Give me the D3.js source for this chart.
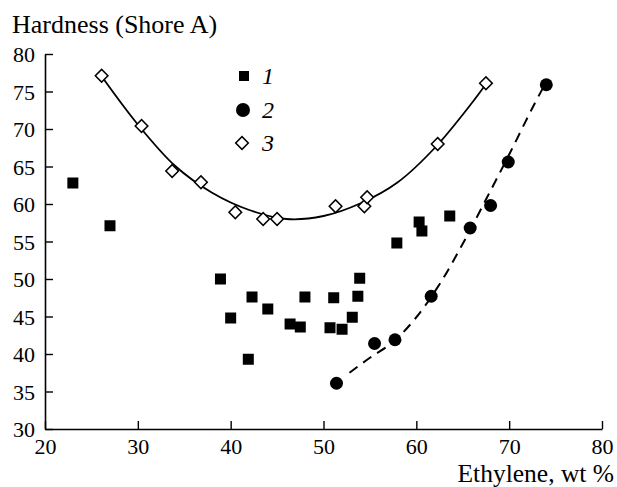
<!DOCTYPE html>
<html><head><meta charset="utf-8">
<script src="https://cdn.jsdelivr.net/npm/d3@7"></script>
<style>
body{margin:0;background:#fff;}
</style></head>
<body>
<svg id="c" width="617" height="487"></svg>
<script>
// Series 1 (filled squares)
const s1x = [23.0, 27.0, 38.9, 40.0, 41.9, 42.3, 44.0, 46.4, 47.5, 48.0, 50.7, 51.1, 52.0, 53.1, 53.7, 53.9, 57.9, 60.3, 60.6, 63.6];
const s1y = [62.8, 57.1, 50.0, 44.8, 39.3, 47.6, 46.0, 44.0, 43.6, 47.6, 43.5, 47.5, 43.3, 44.9, 47.7, 50.1, 54.8, 57.6, 56.4, 58.4];
// Series 2 (filled circles)
const s2x = [51.4, 55.5, 57.7, 61.6, 65.8, 68.0, 69.9, 74.0];
const s2y = [36.1, 41.4, 41.9, 47.7, 56.8, 59.8, 65.6, 75.9];
// Series 3 (open diamonds)
const s3x = [26.1, 30.4, 33.7, 36.8, 40.5, 43.5, 45.0, 51.3, 54.4, 54.7, 62.3, 67.5];
const s3y = [77.1, 70.4, 64.4, 62.9, 58.9, 58.0, 58.0, 59.7, 59.7, 60.9, 68.0, 76.1];
// Fitted curve for series 2 (dashed)
const c2x = [52.8, 55.0, 57.5, 60.0, 62.5, 65.0, 67.5, 70.0, 72.5, 74.0];
const c2y = [37.5, 39.5, 41.6, 44.9, 49.3, 54.7, 60.6, 66.6, 72.8, 76.3];
// Fitted curve for series 3 (solid)
const c3x = [26, 30, 34, 38, 42, 46, 50, 54, 58, 62, 66, 67.5];
const c3y = [77.2, 70.6, 65.1, 61.5, 59.2, 58.0, 58.4, 60.1, 62.9, 67.5, 73.5, 76.0];
// Ticks
const xTicks = [20, 30, 40, 50, 60, 70, 80];
const yTicks = [30, 35, 40, 45, 50, 55, 60, 65, 70, 75, 80];
const legendLabels = ["1", "2", "3"];
const yTitle = "Hardness (Shore A)";
const xTitle = "Ethylene, wt %";

const FONT = "'Liberation Serif'";
const svg = d3.select("#c");
const x = d3.scaleLinear().domain([20, 80]).range([45, 602]);
const y = d3.scaleLinear().domain([30, 80]).range([429, 54]);

// Axes
const xAxis = svg.append("g").attr("transform", "translate(0,429)")
  .call(d3.axisBottom(x).tickValues(xTicks).tickSizeInner(-8).tickSizeOuter(0).tickPadding(9));
const yAxis = svg.append("g").attr("transform", "translate(45,0)")
  .call(d3.axisLeft(y).tickValues(yTicks).tickSizeInner(-8).tickSizeOuter(0).tickPadding(10));
[xAxis, yAxis].forEach(a => {
  a.attr("font-family", null).attr("font-size", null);
  a.selectAll("path").attr("stroke", "#000").attr("stroke-width", 1.6);
  a.selectAll("line").attr("stroke", "#000").attr("stroke-width", 1.4);
  a.selectAll("text").style("font-size", "22px").style("font-family", FONT).attr("fill", "#000");
});
yAxis.selectAll("text").attr("dy", "0.36em");

svg.append("text").attr("x", 12).attr("y", 33).style("font-size", "26px").style("font-family", FONT).attr("fill", "#000").text(yTitle);
svg.append("text").attr("x", 614).attr("y", 482).attr("text-anchor", "end").style("font-size", "25.5px").style("font-family", FONT).attr("fill", "#000").text(xTitle);

const line = d3.line().x(d => x(d[0])).y(d => y(d[1])).curve(d3.curveCatmullRom.alpha(0.5));
svg.append("path").datum(d3.zip(c3x, c3y)).attr("d", line)
  .attr("fill", "none").attr("stroke", "#000").attr("stroke-width", 1.8);
svg.append("path").datum(d3.zip(c2x, c2y)).attr("d", line)
  .attr("fill", "none").attr("stroke", "#000").attr("stroke-width", 2).attr("stroke-dasharray", "10,7");

// Markers
const sq = 11;
svg.append("g").selectAll("rect").data(d3.zip(s1x, s1y)).join("rect")
  .attr("x", d => x(d[0]) - sq / 2).attr("y", d => y(d[1]) - sq / 2)
  .attr("width", sq).attr("height", sq).attr("fill", "#000");
svg.append("g").selectAll("circle").data(d3.zip(s2x, s2y)).join("circle")
  .attr("cx", d => x(d[0])).attr("cy", d => y(d[1])).attr("r", 6.5).attr("fill", "#000");
const dia = d3.symbol().type(d3.symbolSquare).size(80);
svg.append("g").selectAll("path").data(d3.zip(s3x, s3y)).join("path")
  .attr("d", dia)
  .attr("transform", d => `translate(${x(d[0])},${y(d[1])}) rotate(45)`)
  .attr("fill", "#fff").attr("stroke", "#000").attr("stroke-width", 1.5);

// Legend
const lg = svg.append("g");
const ly = [76, 110, 143];
lg.append("rect").attr("x", 244 - 5).attr("y", ly[0] - 5).attr("width", 10).attr("height", 10).attr("fill", "#000");
lg.append("circle").attr("cx", 243).attr("cy", ly[1]).attr("r", 7).attr("fill", "#000");
lg.append("path").attr("d", dia).attr("transform", `translate(242,${ly[2]}) rotate(45)`)
  .attr("fill", "#fff").attr("stroke", "#000").attr("stroke-width", 1.5);
lg.selectAll("text.l").data(legendLabels).join("text").attr("class", "l")
  .attr("x", 262).attr("y", (d, i) => ly[i] + 8).style("font-size", "24px").style("font-family", FONT)
  .style("font-style", "italic").attr("fill", "#000").text(d => d);
</script>
</body></html>
